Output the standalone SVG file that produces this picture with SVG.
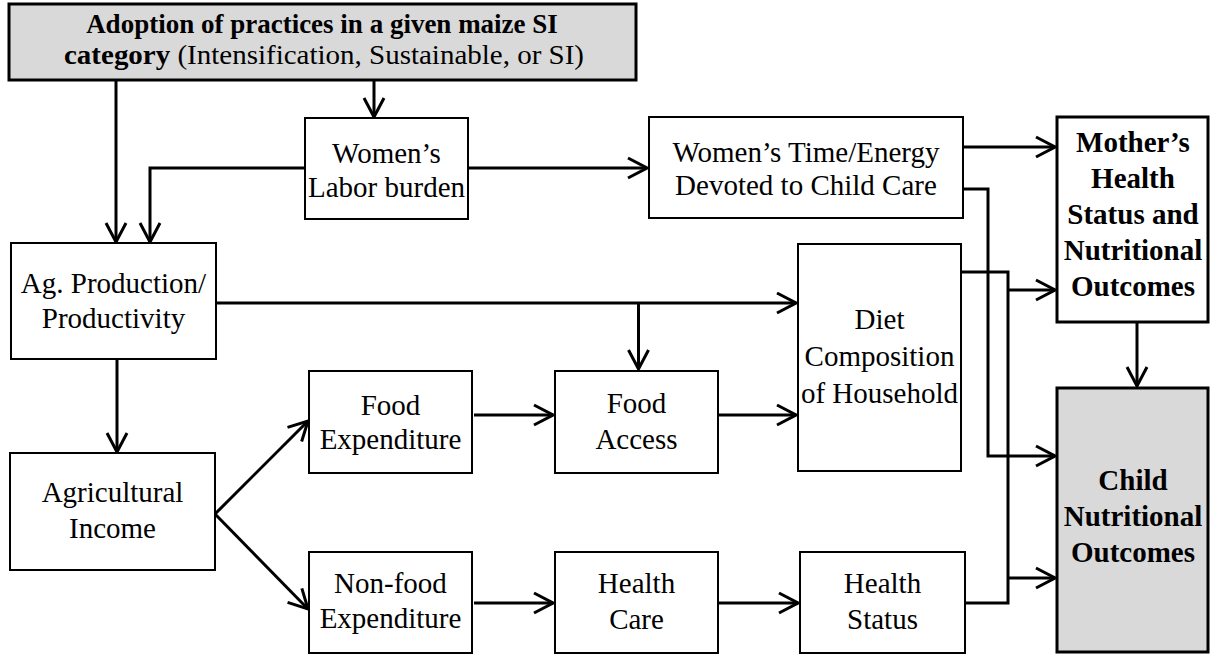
<svg xmlns="http://www.w3.org/2000/svg" width="1211" height="654" viewBox="0 0 1211 654">
<defs>
<marker id="arr" markerUnits="userSpaceOnUse" viewBox="-22 -12 24 24" refX="0" refY="0" markerWidth="24" markerHeight="24" orient="auto">
<path d="M-19,-10 L0,0 L-19,10" fill="none" stroke="#000" stroke-width="3" stroke-linejoin="miter"/>
</marker>
</defs>
<style>
.box{fill:#fff;stroke:#000;stroke-width:2}
.gbox{fill:#d9d9d9;stroke:#000;stroke-width:3}
.tb{fill:#fff;stroke:#000;stroke-width:3}
text{font-family:"Liberation Serif","Times New Roman",serif;font-size:29px;fill:#000;text-anchor:middle}
.b{font-weight:bold}
.c{fill:none;stroke:#000;stroke-width:3}
</style>
<rect width="1211" height="654" fill="#fff"/>
<g id="top">
<rect class="gbox" x="9" y="4" width="627" height="76"/>
<text class="b" x="322" y="33" style="font-size:27px">Adoption of practices in a given maize SI</text>
<text x="324" y="64" style="font-size:28px" textLength="520" lengthAdjust="spacingAndGlyphs"><tspan class="b">category</tspan> (Intensification, Sustainable, or SI)</text>
</g>
<g id="wlabor">
<rect class="box" x="305" y="118" width="163" height="101"/>
<text x="386.5" y="163">Women’s</text>
<text x="386.5" y="197">Labor burden</text>
</g>
<g id="wtime">
<rect class="box" x="649" y="117" width="314" height="101"/>
<text x="806" y="162">Women’s Time/Energy</text>
<text x="806" y="195">Devoted to Child Care</text>
</g>
<g id="mother">
<rect class="tb" x="1057" y="117" width="151" height="205"/>
<text class="b" x="1133" y="152">Mother’s</text>
<text class="b" x="1133" y="188">Health</text>
<text class="b" x="1133" y="224">Status and</text>
<text class="b" x="1133" y="260">Nutritional</text>
<text class="b" x="1133" y="296">Outcomes</text>
</g>
<g id="agprod">
<rect class="box" x="11" y="243" width="205" height="116"/>
<text x="113.5" y="293">Ag. Production/</text>
<text x="113.5" y="328">Productivity</text>
</g>
<g id="diet">
<rect class="box" x="798" y="244" width="163" height="227"/>
<text x="879.5" y="329">Diet</text>
<text x="879.5" y="366">Composition</text>
<text x="879.5" y="403">of Household</text>
</g>
<g id="foodexp">
<rect class="box" x="309" y="371" width="163" height="102"/>
<text x="390.5" y="415">Food</text>
<text x="390.5" y="449">Expenditure</text>
</g>
<g id="foodaccess">
<rect class="box" x="555" y="371" width="163" height="102"/>
<text x="636.5" y="413">Food</text>
<text x="636.5" y="449">Access</text>
</g>
<g id="agincome">
<rect class="box" x="10" y="453" width="205" height="117"/>
<text x="112.5" y="502">Agricultural</text>
<text x="112.5" y="538">Income</text>
</g>
<g id="child">
<rect class="gbox" x="1057" y="388" width="151" height="264"/>
<text class="b" x="1133" y="490">Child</text>
<text class="b" x="1133" y="526">Nutritional</text>
<text class="b" x="1133" y="562">Outcomes</text>
</g>
<g id="nonfood">
<rect class="box" x="309" y="552" width="163" height="101"/>
<text x="390.5" y="593">Non-food</text>
<text x="390.5" y="628">Expenditure</text>
</g>
<g id="healthcare">
<rect class="box" x="555" y="552" width="163" height="101"/>
<text x="636.5" y="593">Health</text>
<text x="636.5" y="629">Care</text>
</g>
<g id="healthstatus">
<rect class="box" x="800" y="552" width="165" height="101"/>
<text x="882.5" y="593">Health</text>
<text x="882.5" y="629">Status</text>
</g>
<g id="connectors" class="c">
<path class="c" d="M116,80 V242" marker-end="url(#arr)"/>
<path class="c" d="M374,80 V117" marker-end="url(#arr)"/>
<path class="c" d="M305,168 H150 V242" marker-end="url(#arr)"/>
<path class="c" d="M468,168 H647" marker-end="url(#arr)"/>
<path class="c" d="M963,147 H1055" marker-end="url(#arr)"/>
<path class="c" d="M216,303 H796" marker-end="url(#arr)"/>
<path class="c" d="M638.5,303 V369" marker-end="url(#arr)"/>
<path class="c" d="M117,359 V452" marker-end="url(#arr)"/>
<path class="c" d="M215,514 L308,421" marker-end="url(#arr)"/>
<path class="c" d="M215,514 L308,609" marker-end="url(#arr)"/>
<path class="c" d="M474,415 H553" marker-end="url(#arr)"/>
<path class="c" d="M718,415 H796" marker-end="url(#arr)"/>
<path class="c" d="M474,603 H553" marker-end="url(#arr)"/>
<path class="c" d="M718,603 H798" marker-end="url(#arr)"/>
<path class="c" d="M963,189 H988 V456 H1055" marker-end="url(#arr)"/>
<path class="c" d="M961,272 H1008 V603 H965"/>
<path class="c" d="M1008,290 H1055" marker-end="url(#arr)"/>
<path class="c" d="M1008,578 H1055" marker-end="url(#arr)"/>
<path class="c" d="M1137,322 V386" marker-end="url(#arr)"/>
</g>
</svg>
